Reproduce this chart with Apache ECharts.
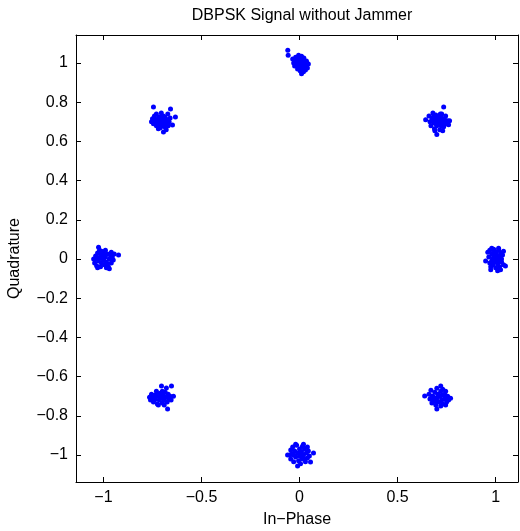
<!DOCTYPE html>
<html>
<head>
<meta charset="utf-8">
<script src="https://cdn.jsdelivr.net/npm/echarts@6/dist/echarts.min.js"></script>
<style>
  html, body { margin: 0; padding: 0; background: #fff; }
  #chart { width: 520px; height: 531px; }
</style>
</head>
<body>
<div id="chart"></div>
<script>
// 各星座点附近的接收样本
var clusterN = [[-0.06,1.065],[-0.058,1.04],[-0.035,1.02],[-0.03,1.0],[-0.025,0.985],[-0.02,1.03],[-0.015,1.01],[-0.012,0.99],[-0.01,0.97],[-0.005,1.04],[0,1.02],[0,1.0],[0,0.98],[0.003,0.96],[0.005,1.01],[0.008,0.99],[0.01,1.035],[0.012,0.975],[0.015,1.015],[0.018,0.995],[0.02,0.955],[0.022,1.025],[0.025,0.98],[0.028,1.005],[0.03,0.965],[0.033,0.99],[0.035,1.01],[0.04,0.975],[0.045,0.995],[0.038,1.0],[-0.02,0.995],[0.01,0.945],[-0.008,1.005],[0.02,1.0],[-0.01,1.02],[0.025,1.01],[0.01,0.96],[-0.025,1.005]];
var clusterNE = [[0.643,0.71],[0.735,0.776],[0.70,0.635],[0.66,0.73],[0.665,0.70],[0.67,0.68],[0.675,0.72],[0.68,0.745],[0.685,0.695],[0.688,0.665],[0.69,0.715],[0.695,0.735],[0.70,0.70],[0.70,0.68],[0.705,0.725],[0.71,0.69],[0.712,0.71],[0.715,0.66],[0.718,0.74],[0.72,0.70],[0.722,0.68],[0.725,0.72],[0.73,0.695],[0.735,0.675],[0.74,0.71],[0.745,0.73],[0.75,0.69],[0.755,0.705],[0.76,0.685],[0.73,0.655],[0.68,0.71],[0.695,0.69],[0.715,0.725],[0.725,0.74],[0.765,0.705],[0.69,0.655],[0.705,0.705],[0.74,0.695],[0.685,0.73]];
var clusterE = [[0.949,-0.01],[1.05,-0.036],[1.01,-0.06],[0.96,0.035],[0.965,0.01],[0.97,-0.02],[0.97,0.045],[0.975,-0.04],[0.98,0.025],[0.985,0.0],[0.985,-0.03],[0.99,0.05],[0.99,0.015],[0.995,-0.015],[1.0,0.035],[1.0,-0.005],[1.0,-0.045],[1.005,0.02],[1.01,0.0],[1.01,-0.025],[1.015,0.045],[1.02,0.01],[1.02,-0.04],[1.025,0.03],[1.03,-0.015],[1.03,0.0],[1.035,0.02],[1.04,-0.03],[1.04,0.04],[0.975,-0.055],[1.025,-0.055],[0.98,0.055],[1.015,0.055],[0.995,0.0],[0.98,-0.01],[1.015,-0.01],[0.99,0.03]];
var clusterSE = [[0.638,-0.699],[0.72,-0.648],[0.70,-0.765],[0.77,-0.71],[0.66,-0.69],[0.665,-0.715],[0.67,-0.67],[0.675,-0.735],[0.68,-0.70],[0.685,-0.72],[0.69,-0.68],[0.695,-0.745],[0.70,-0.71],[0.705,-0.69],[0.71,-0.73],[0.715,-0.70],[0.72,-0.675],[0.725,-0.72],[0.73,-0.74],[0.735,-0.695],[0.74,-0.715],[0.745,-0.675],[0.75,-0.73],[0.755,-0.70],[0.76,-0.72],[0.70,-0.66],[0.73,-0.665],[0.69,-0.71],[0.72,-0.75],[0.675,-0.70],[0.745,-0.745],[0.71,-0.70],[0.74,-0.69],[0.695,-0.725],[0.725,-0.695]];
var clusterS = [[-0.061,-1.0],[-0.01,-1.056],[0.071,-0.99],[0.056,-1.036],[-0.045,-0.975],[-0.045,-1.02],[-0.04,-0.995],[-0.035,-0.96],[-0.03,-1.035],[-0.025,-0.98],[-0.02,-1.01],[-0.015,-0.95],[-0.01,-0.99],[-0.005,-1.03],[0.0,-0.97],[0.0,-1.005],[0.005,-1.045],[0.01,-0.985],[0.015,-0.955],[0.015,-1.02],[0.02,-1.0],[0.025,-0.97],[0.03,-1.035],[0.035,-0.99],[0.04,-0.96],[0.04,-1.015],[0.045,-0.98],[0.05,-1.005],[-0.02,-0.945],[0.02,-0.945],[-0.03,-1.0],[0.01,-1.01],[-0.05,-1.0],[0.0,-0.99],[0.025,-1.02]];
var clusterSW = [[-0.704,-0.648],[-0.679,-0.658],[-0.653,-0.648],[-0.673,-0.765],[-0.643,-0.70],[-0.765,-0.705],[-0.76,-0.72],[-0.755,-0.69],[-0.75,-0.71],[-0.745,-0.73],[-0.74,-0.695],[-0.735,-0.715],[-0.73,-0.675],[-0.725,-0.74],[-0.72,-0.70],[-0.715,-0.72],[-0.71,-0.685],[-0.705,-0.71],[-0.70,-0.735],[-0.695,-0.695],[-0.69,-0.72],[-0.685,-0.68],[-0.68,-0.705],[-0.675,-0.73],[-0.67,-0.69],[-0.665,-0.715],[-0.66,-0.70],[-0.72,-0.745],[-0.70,-0.675],[-0.74,-0.72],[-0.69,-0.745],[-0.71,-0.70],[-0.655,-0.72],[-0.725,-0.69],[-0.695,-0.71]];
var clusterW = [[-1.025,0.06],[-0.923,0.02],[-0.97,-0.05],[-1.05,0.0],[-1.045,-0.02],[-1.04,0.015],[-1.035,-0.035],[-1.03,0.03],[-1.025,-0.01],[-1.02,0.005],[-1.015,-0.04],[-1.01,0.04],[-1.01,-0.02],[-1.005,0.015],[-1.0,-0.005],[-1.0,0.03],[-0.995,-0.03],[-0.99,0.01],[-0.985,-0.015],[-0.98,0.025],[-0.975,-0.04],[-0.97,0.0],[-0.965,0.02],[-0.96,-0.02],[-0.955,0.01],[-0.95,-0.005],[-0.945,0.025],[-1.02,0.045],[-0.99,0.045],[-1.03,-0.045],[-0.96,0.035],[-0.985,-0.045],[-1.0,0.0],[-1.015,0.02],[-1.035,0.0],[-0.98,-0.025]];
var clusterNW = [[-0.745,0.776],[-0.658,0.765],[-0.633,0.724],[-0.694,0.648],[-0.648,0.684],[-0.755,0.70],[-0.75,0.715],[-0.745,0.69],[-0.74,0.72],[-0.735,0.70],[-0.73,0.68],[-0.73,0.74],[-0.725,0.71],[-0.72,0.695],[-0.715,0.725],[-0.71,0.67],[-0.71,0.705],[-0.705,0.745],[-0.70,0.69],[-0.70,0.715],[-0.695,0.73],[-0.69,0.70],[-0.688,0.675],[-0.685,0.72],[-0.68,0.69],[-0.675,0.71],[-0.672,0.74],[-0.67,0.68],[-0.665,0.70],[-0.66,0.72],[-0.72,0.665],[-0.74,0.73],[-0.705,0.68],[-0.68,0.66],[-0.715,0.70],[-0.69,0.725],[-0.725,0.685]];

// 刻度
var xTicks = [-1, -0.5, 0, 0.5, 1];
var yTicks = [-1, -0.8, -0.6, -0.4, -0.2, 0, 0.2, 0.4, 0.6, 0.8, 1];

var allPoints = [].concat(clusterN, clusterNE, clusterE, clusterSE, clusterS, clusterSW, clusterW, clusterNW);

var FONT = '"Liberation Sans", Arial, sans-serif';

function fmt(v) {
  return (v < 0 ? '\u2212' : '') + Math.abs(v);
}

function makeAxis(pos, ticks, showLabel, extra) {
  var ax = {
    type: 'value',
    position: pos,
    min: extra.min,
    max: extra.max,
    splitLine: { show: false },
    axisLine: { show: true, onZero: false, lineStyle: { color: '#000', width: 1 } },
    axisTick: { show: true, inside: true, length: 5, customValues: ticks, lineStyle: { color: '#000' } },
    axisLabel: {
      show: showLabel,
      customValues: ticks,
      formatter: fmt,
      color: '#000',
      fontSize: 16,
      fontFamily: FONT,
      margin: 8
    }
  };
  if (extra.name) {
    ax.name = extra.name;
    ax.nameLocation = 'middle';
    ax.nameGap = extra.nameGap;
    ax.nameTextStyle = { color: '#000', fontSize: 16, fontFamily: FONT };
  }
  return ax;
}

var chart = echarts.init(document.getElementById('chart'));

var option = {
  animation: false,
  backgroundColor: '#fff',
  title: {
    text: 'DBPSK Signal without Jammer',
    left: 297,
    textAlign: 'center',
    top: 3,
    textStyle: { color: '#000', fontSize: 16, fontWeight: 'normal', fontFamily: FONT }
  },
  grid: { left: 76, right: 2, top: 35, bottom: 49, containLabel: false, outerBoundsMode: 'none' },
  xAxis: [
    makeAxis('bottom', xTicks, true, { min: -1.14, max: 1.114, name: 'In\u2212Phase', nameGap: 30 }),
    makeAxis('top', xTicks, false, { min: -1.14, max: 1.114 })
  ],
  yAxis: [
    makeAxis('left', yTicks, true, { min: -1.138, max: 1.143, name: 'Quadrature', nameGap: 53 }),
    makeAxis('right', yTicks, false, { min: -1.138, max: 1.143 })
  ],
  series: [{
    type: 'scatter',
    xAxisIndex: 0,
    yAxisIndex: 0,
    symbol: 'circle',
    symbolSize: 5,
    itemStyle: { color: '#0000ff', opacity: 1 },
    data: allPoints
  }]
};

chart.setOption(option);
</script>
</body>
</html>
